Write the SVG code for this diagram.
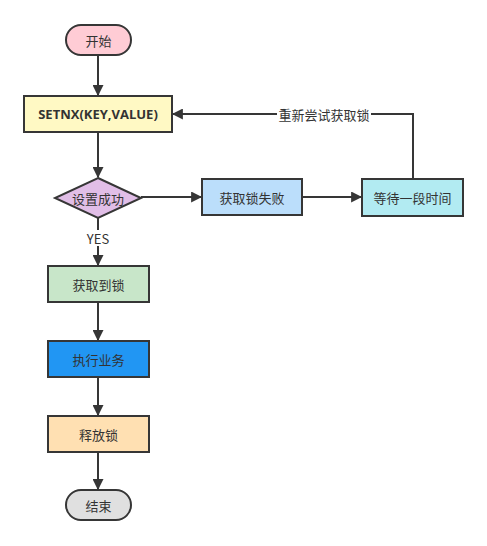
<svg xmlns="http://www.w3.org/2000/svg" width="487" height="546" viewBox="0 0 487 546">
<style>
.n{stroke:#363636;stroke-width:2}
.t{font-family:"Noto Sans CJK SC","Liberation Sans",sans-serif;font-size:13px;fill:#333;text-anchor:middle;dominant-baseline:central}
.c{fill:none;stroke:#363636;stroke-width:2}
</style>
<defs>
<marker id="a" viewBox="0 0 10 10" refX="9" refY="5" markerWidth="5.5" markerHeight="5.5" orient="auto" markerUnits="strokeWidth">
<path d="M0,0 L10,5 L0,10 Z" fill="#363636"/>
</marker>
</defs>
<rect width="487" height="546" fill="#fff"/>
<g id="edges">
<path class="c" d="M98,55 V95" marker-end="url(#a)"/>
<path class="c" d="M98,132 V177" marker-end="url(#a)"/>
<path class="c" d="M141,197 H201" marker-end="url(#a)"/>
<path class="c" d="M302,197 H361" marker-end="url(#a)"/>
<path class="c" d="M413,179 V114 H173" marker-end="url(#a)"/>
<path class="c" d="M98,218 V265" marker-end="url(#a)"/>
<path class="c" d="M98,302 V340" marker-end="url(#a)"/>
<path class="c" d="M98,377 V415" marker-end="url(#a)"/>
<path class="c" d="M98,452 V489" marker-end="url(#a)"/>
<rect x="277" y="105" width="94" height="18" fill="#fff"/>
<text class="t" x="324" y="114">重新尝试获取锁</text>
<rect x="85" y="230" width="26" height="16" fill="#fff"/>
<text class="t" x="98" y="238">YES</text>
</g>
<g id="start"><rect class="n" x="66" y="25" width="65" height="30" rx="15" fill="#ffccd5"/><text class="t" x="98.5" y="40">开始</text></g>
<g id="setnx"><rect class="n" x="24" y="96" width="148" height="36" fill="#fff9c4"/><text class="t" x="98" y="114" style="font-weight:bold;font-family:'Open Sans','Noto Sans','Liberation Sans',sans-serif">SETNX(KEY,VALUE)</text></g>
<g id="decision"><polygon class="n" points="98,178 141,198 98,218 55,198" fill="#e1bee7"/><text class="t" x="98" y="198">设置成功</text></g>
<g id="fail"><rect class="n" x="202" y="179" width="100" height="36" fill="#bbdefb"/><text class="t" x="252" y="197">获取锁失败</text></g>
<g id="wait"><rect class="n" x="362" y="179" width="101" height="37" fill="#b2ebf2"/><text class="t" x="412.5" y="197.5">等待一段时间</text></g>
<g id="got"><rect class="n" x="48" y="266" width="101" height="36" fill="#c8e6c9"/><text class="t" x="98.5" y="284">获取到锁</text></g>
<g id="exec"><rect class="n" x="48" y="341" width="101" height="36" fill="#2196f3"/><text class="t" x="98.5" y="359">执行业务</text></g>
<g id="release"><rect class="n" x="48" y="416" width="101" height="36" fill="#ffe0b2"/><text class="t" x="98.5" y="434">释放锁</text></g>
<g id="end"><rect class="n" x="66" y="490" width="65" height="30" rx="15" fill="#e0e0e0"/><text class="t" x="98.5" y="505">结束</text></g>
</svg>
